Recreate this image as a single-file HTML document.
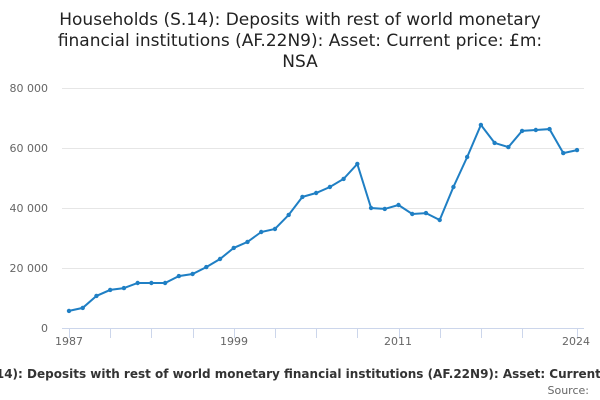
<!DOCTYPE html>
<html><head><meta charset="utf-8"><style>
html,body{margin:0;padding:0;background:#fff;width:600px;height:400px;overflow:hidden;font-family:"Liberation Sans","DejaVu Sans",sans-serif}
</style></head><body>
<svg width="600" height="400" xmlns="http://www.w3.org/2000/svg" font-family="DejaVu Sans, Liberation Sans, sans-serif">
<text x="300" y="25" text-anchor="middle" font-size="17" fill="#222">Households (S.14): Deposits with rest of world monetary</text>
<text x="300" y="46" text-anchor="middle" font-size="17" fill="#222">financial institutions (AF.22N9): Asset: Current price: £m:</text>
<text x="300" y="67" text-anchor="middle" font-size="17" fill="#222">NSA</text>
<g stroke="#e6e6e6" stroke-width="1">
<line x1="62" x2="584" y1="88.5" y2="88.5"/><line x1="62" x2="584" y1="148.5" y2="148.5"/><line x1="62" x2="584" y1="208.5" y2="208.5"/><line x1="62" x2="584" y1="268.5" y2="268.5"/>
</g>
<line x1="62" x2="584" y1="328.5" y2="328.5" stroke="#ccd6eb"/>
<g font-size="11" fill="#666" text-anchor="end">
<text x="48" y="92">80 000</text><text x="48" y="152">60 000</text><text x="48" y="212">40 000</text><text x="48" y="272">20 000</text><text x="48" y="332">0</text>
</g>
<g stroke="#ccd6eb" id="ticks"></g>
<g font-size="11" fill="#666" text-anchor="middle">
<text x="69" y="345">1987</text><text x="234" y="345">1999</text><text x="398" y="345">2011</text><text x="576" y="345">2024</text>
</g>
<polyline id="ln" fill="none" stroke="#1f7fc4" stroke-width="2"/>
<g id="pts" fill="#1f7fc4"></g>
<text x="300" y="378" text-anchor="middle" font-size="12" font-weight="bold" fill="#333">Households (S.14): Deposits with rest of world monetary financial institutions (AF.22N9): Asset: Current price: £m: NSA</text>
<text x="589" y="394" text-anchor="end" font-size="11" fill="#666">Source:</text>
</svg>
<script>
var d=[5700,6700,10700,12700,13300,15000,15000,15000,17300,18000,20300,23000,26700,28700,32000,33000,37700,43700,45000,47000,49700,54700,40000,39700,41000,38000,38300,36000,47000,57000,67700,61700,60300,65700,66000,66300,58300,59300];
var ns="http://www.w3.org/2000/svg",p=[],g=document.getElementById('pts');
d.forEach(function(v,i){var x=69+i*508/37,y=328-v*0.003;p.push(x.toFixed(1)+','+y.toFixed(1));var c=document.createElementNS(ns,'circle');c.setAttribute('cx',x);c.setAttribute('cy',y);c.setAttribute('r',2.2);g.appendChild(c);});
document.getElementById('ln').setAttribute('points',p.join(' '));
var t=document.getElementById('ticks');
for(var i=0;i<=33;i+=3){add(69+i*508/37);}add(577);
function add(x){var l=document.createElementNS(ns,'line');x=Math.round(x)+0.5;l.setAttribute('x1',x);l.setAttribute('x2',x);l.setAttribute('y1',328);l.setAttribute('y2',338);t.appendChild(l);}
</script>
</body></html>
